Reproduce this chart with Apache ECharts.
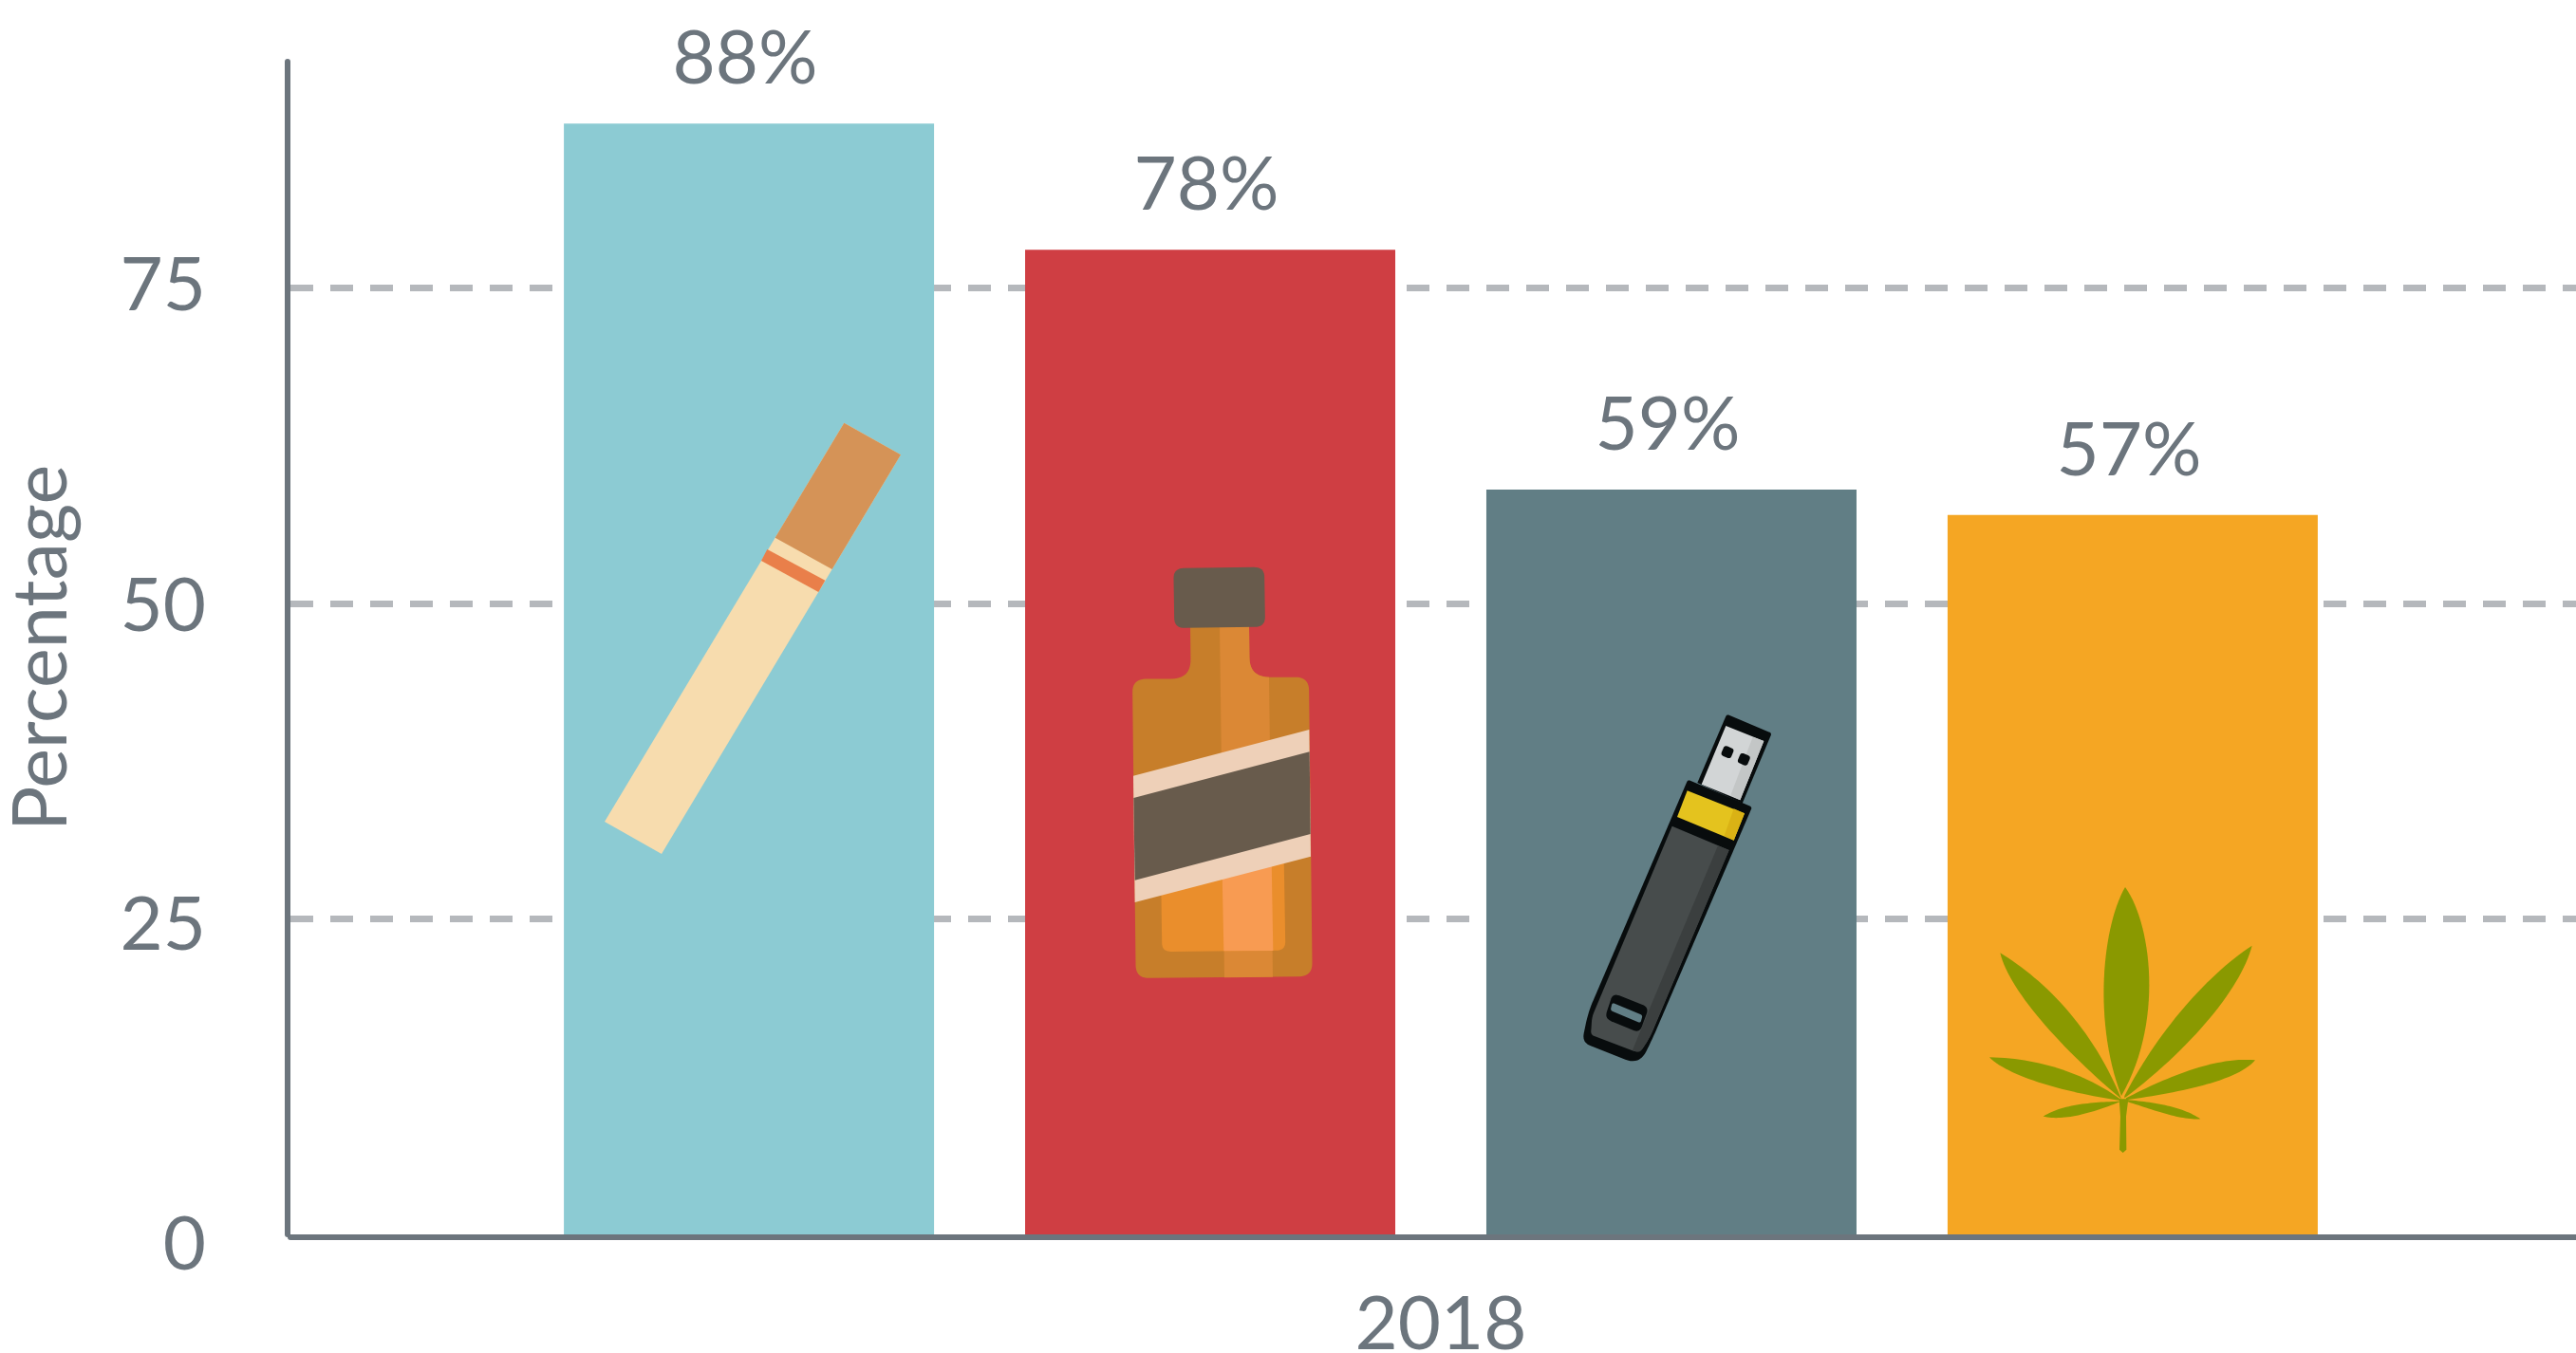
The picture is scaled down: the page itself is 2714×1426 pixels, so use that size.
<!DOCTYPE html>
<html>
<head>
<meta charset="utf-8">
<style>html,body{margin:0;padding:0;background:#fff}#c{width:2714px;height:1426px}</style>
<script src="https://cdn.jsdelivr.net/npm/echarts@6/dist/echarts.min.js"></script>
</head>
<body>
<div id="c"></div>
<script>
const categories = ['2018'];
const substances = ['Cigarettes', 'Alcohol', 'E-cigarettes', 'Marijuana'];
const percentages = [88, 78, 59, 57];
const barColors = ['#8ccbd3', '#cf3e43', '#617e85', '#f5a623'];
const axisTitle = 'Percentage';

const FONT = 'Lato';
const TEXT = '#6c757d';
const FS = 78;

/* ---------- decorative icon helpers (pictures on the bars, not data) ---------- */
function quad(a, c, b, n, out) {
  for (let i = 0; i <= n; i++) {
    const t = i / n, u = 1 - t;
    out.push([u*u*a[0] + 2*u*t*c[0] + t*t*b[0], u*u*a[1] + 2*u*t*c[1] + t*t*b[1]]);
  }
}
function rounded(pts) {
  const out = [], n = pts.length;
  for (let i = 0; i < n; i++) {
    const p = pts[i], r = p[2] || 0;
    if (!r) { out.push([p[0], p[1]]); continue; }
    const a = pts[(i + n - 1) % n], b = pts[(i + 1) % n];
    const la = Math.hypot(a[0]-p[0], a[1]-p[1]), lb = Math.hypot(b[0]-p[0], b[1]-p[1]);
    const s = [p[0] + (a[0]-p[0]) * r / la, p[1] + (a[1]-p[1]) * r / la];
    const e = [p[0] + (b[0]-p[0]) * r / lb, p[1] + (b[1]-p[1]) * r / lb];
    quad(s, p, e, 10, out);
  }
  return out;
}
function cubic(a, b, c, d, n, out) {
  for (let i = 0; i <= n; i++) {
    const t = i / n, u = 1 - t;
    out.push([
      u*u*u*a[0] + 3*u*u*t*b[0] + 3*u*t*t*c[0] + t*t*t*d[0],
      u*u*u*a[1] + 3*u*u*t*b[1] + 3*u*t*t*c[1] + t*t*t*d[1]
    ]);
  }
}
function blade(tip, c1, c2, base1, c3, c4, base2) {
  const out = [];
  cubic(tip, c1, c2, base1, 30, out);
  const other = [];
  cubic(tip, c3, c4, base2, 30, other);
  return out.concat(other.reverse());
}
function poly(points, fill) {
  return { type: 'polygon', z: 50, silent: true, shape: { points: rounded(points) }, style: { fill: fill } };
}
function icon(x, y, children) {
  return { type: 'group', x: x, y: y, scaleX: 1/3, scaleY: 1/3, silent: true, children: children };
}

const cigarette = icon(600, 420, [
  poly([[868,77],[1047,178],[291,1440],[111,1338]], '#f7dcae'),
  poly([[868,77],[1047,178],[830,540],[650,440]], '#d59357'),
  poly([[625,477],[808,575],[787,612],[606,513]], '#e97f4a')
]);

const bottle = icon(1130, 570, [
  poly([[372,270],[374,436,62],[189,437,42],[200,1383,42],[758,1377,42],[747,431,42],[560,431,62],[558,270]], '#c77e2a'),
  poly([[465,270],[558,270],[560,431,62],[621,431],[633,1379],[480,1381]], '#db8835'),
  poly([[280,1090],[668,1000],[673,1295,28],[283,1299,28]], '#ea8e2c'),
  poly([[473,1050],[629,1010],[634,1296],[478,1297]], '#f89b52'),
  poly([[319,87,32],[606,83,32],[609,272,32],[322,276,32]], '#685b4c'),
  poly([[192,743],[748,597],[753,998],[197,1143]], '#eed0b8'),
  poly([[193,813],[749,667],[752,927],[197,1073]], '#685b4c')
]);

const usb = icon(1640, 730, [
  poly([[538,68,8],[680,128,8],[587,350],[445,285]], '#080c0d'),
  poly([[535,105],[655,153],[580,340],[458,290]], '#d2d5d6'),
  poly([[620,140],[655,153],[580,340],[550,325]], '#c3c6c6'),
  poly([[531,166,10],[562,179,10],[549,210,10],[518,197,10]], '#080c0d'),
  poly([[583,189,10],[614,202,10],[601,233,10],[570,220,10]], '#080c0d'),
  poly([[415,275,8],[618,362,8],[305,1090,40],[262,1178,50],[80,1106,30],[100,1010,40]], '#080c0d'),
  poly([[365,422],[545,498],[295,1090,25],[262,1140,20],[108,1082,12],[112,1025,15]], '#474c4c'),
  poly([[510,484],[545,498],[292,1095,25],[262,1140,15],[240,1130],[300,985]], '#3b3f3f'),
  poly([[413,310],[594,382],[560,467],[381,393]], '#e4c31e'),
  poly([[560,367],[594,382],[560,467],[530,452]], '#dab215'),
  poly([[178,950,22],[292,995,22],[262,1076,22],[152,1030,22]], '#080c0d'),
  poly([[176,980,8],[272,1020,8],[265,1045,8],[170,1005,8]], '#617e85')
]);

const LEAF = '#8a9900';
function leafPoly(pts) {
  return { type: 'polygon', z: 50, silent: true, shape: { points: pts }, style: { fill: LEAF } };
}
const leaf = icon(2060, 910, [
  leafPoly(blade([537,75],[465,200],[435,500],[525,735],[620,190],[660,500],[525,735])),
  leafPoly(blade([142,283],[270,360],[430,510],[525,745],[170,400],[330,580],[525,745])),
  leafPoly(blade([938,260],[800,350],[640,530],[535,735],[905,390],[750,580],[535,742])),
  leafPoly(blade([108,613],[270,615],[420,670],[525,748],[170,675],[350,725],[525,750])),
  leafPoly(blade([948,622],[820,610],[660,680],[540,742],[890,690],[700,725],[540,748])),
  leafPoly(blade([278,800],[340,760],[440,755],[520,752],[340,815],[430,790],[520,754])),
  leafPoly(blade([775,808],[720,770],[630,755],[545,748],[710,812],[630,780],[545,754])),
  poly([[518,745],[547,745],[540,800],[541,905],[530,915],[519,905],[522,800]], LEAF)
]);

/* tick labels sit a little below their gridlines in the reference, more so near the bottom */
const tickRich = {
  t0:  { padding: [24, 0, 0, 0] },
  t25: { padding: [14, 0, 0, 0] },
  t50: { padding: [8, 0, 0, 0] },
  t75: { padding: [0, 0, 2, 0] }
};

/* ---------- chart ---------- */
const chart = echarts.init(document.getElementById('c'), null, { renderer: 'canvas' });
chart.setOption({
  animation: false,
  backgroundColor: '#ffffff',
  textStyle: { fontFamily: FONT },
  grid: { left: 306, right: -16, top: 65, bottom: 125, containLabel: false, outerBoundsMode: 'none' },
  xAxis: {
    type: 'category',
    data: categories,
    offset: 3,
    axisTick: { show: false },
    axisLine: { show: true, onZero: false, lineStyle: { color: TEXT, width: 6 } },
    axisLabel: { color: TEXT, fontFamily: FONT, fontSize: FS, margin: 54 },
    splitLine: { show: false }
  },
  yAxis: {
    type: 'value',
    min: 0,
    max: 92.9,
    interval: 25,
    offset: 3,
    name: axisTitle,
    nameLocation: 'middle',
    nameGap: 219,
    nameRotate: 90,
    nameTextStyle: { color: TEXT, fontFamily: FONT, fontSize: 79 },
    axisTick: { show: false },
    axisLine: { show: true, lineStyle: { color: TEXT, width: 6 } },
    axisLabel: {
      color: TEXT, fontFamily: FONT, fontSize: FS, margin: 86, showMaxLabel: false,
      formatter: function (v) { return '{t' + v + '|' + v + '}'; },
      rich: {
        t0:  Object.assign({ color: TEXT, fontFamily: FONT, fontSize: FS }, tickRich.t0),
        t25: Object.assign({ color: TEXT, fontFamily: FONT, fontSize: FS }, tickRich.t25),
        t50: Object.assign({ color: TEXT, fontFamily: FONT, fontSize: FS }, tickRich.t50),
        t75: Object.assign({ color: TEXT, fontFamily: FONT, fontSize: FS }, tickRich.t75)
      }
    },
    splitLine: {
      show: true,
      showMinLine: false,
      showMaxLine: false,
      lineStyle: { color: '#b5b8bc', width: 7, type: [24, 18] }
    }
  },
  series: substances.map((name, i) => ({
    name: name,
    type: 'bar',
    barWidth: 390,
    barGap: '24.6%',
    data: [percentages[i]],
    itemStyle: { color: barColors[i] },
    label: {
      show: true,
      position: 'top',
      distance: 28,
      offset: [-4, 0],
      formatter: '{c}%',
      color: TEXT,
      fontFamily: FONT,
      fontSize: FS
    }
  })),
  graphic: { elements: [cigarette, bottle, usb, leaf] }
});
</script>
</body>
</html>
